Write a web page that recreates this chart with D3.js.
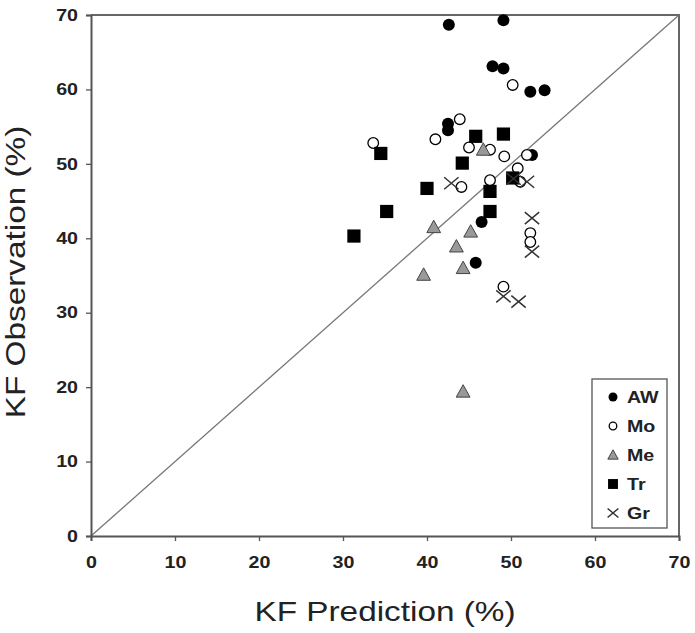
<!DOCTYPE html>
<html lang="en">
  <head>
    <meta charset="UTF-8" />
    <script src="https://d3js.org/d3.v7.min.js"></script>
    <title>KF Prediction vs Observation</title>
    <style>
      body {
        margin: 0;
        background: #fff;
      }
      .tick text {
        font-family: Arial, "Liberation Sans", sans-serif;
        font-size: 16.5px;
        font-weight: bold;
        fill: #222;
      }
      .axis-title {
        font-family: Arial, "Liberation Sans", sans-serif;
        font-size: 28px;
        fill: #222;
      }
      .legend-label {
        font-family: Arial, "Liberation Sans", sans-serif;
        font-size: 16.5px;
        font-weight: bold;
        fill: #222;
      }
    </style>
  </head>
  <body>
    <svg id="chart" width="695" height="633"></svg>

    <script>
      // data: [prediction, observation]
      const awPoints = [
        [42.6, 68.7], [49.1, 69.3], [47.8, 63.1], [49.1, 62.8], [52.3, 59.7],
        [54.0, 59.9], [42.5, 55.4], [42.5, 54.5], [52.5, 51.2], [46.5, 42.2],
        [45.8, 36.7]
      ];
      const moPoints = [
        [50.2, 60.6], [43.9, 56.0], [33.6, 52.8], [41.0, 53.3], [45.0, 52.2],
        [47.5, 51.9], [49.2, 51.0], [51.9, 51.2], [50.8, 49.4], [47.5, 47.8],
        [44.1, 46.9], [51.1, 47.6], [52.3, 40.7], [52.3, 39.5], [49.1, 33.5]
      ];
      const mePoints = [
        [46.7, 51.9], [40.8, 41.5], [45.2, 40.9], [43.5, 38.9], [44.3, 36.0],
        [39.6, 35.1], [44.3, 19.4]
      ];
      const trPoints = [
        [34.5, 51.4], [45.8, 53.7], [49.1, 54.0], [44.2, 50.1], [40.0, 46.7],
        [47.5, 46.3], [35.2, 43.6], [47.5, 43.6], [31.3, 40.3], [50.2, 48.1]
      ];
      const grPoints = [
        [42.9, 47.4], [50.3, 48.0], [51.9, 47.6], [52.5, 42.7], [52.5, 38.2],
        [49.1, 32.2], [50.9, 31.5]
      ];
      const seriesNames = ["AW", "Mo", "Me", "Tr", "Gr"];
      const tickValues = [0, 10, 20, 30, 40, 50, 60, 70];

      const series = [
        { name: "AW", points: awPoints },
        { name: "Mo", points: moPoints },
        { name: "Me", points: mePoints },
        { name: "Tr", points: trPoints },
        { name: "Gr", points: grPoints }
      ];

      const svg = d3.select("#chart");
      const plotLeft = 91, plotRight = 679, plotTop = 15, plotBottom = 536;
      const stretch = 1.19; // the original type is set wide

      const x = d3.scaleLinear().domain([0, 70]).range([plotLeft, plotRight]);
      const y = d3.scaleLinear().domain([0, 70]).range([plotBottom, plotTop]);

      // widen text along its own direction
      function widen(sel) {
        sel.each(function () {
          const len = this.getComputedTextLength();
          d3.select(this)
            .attr("textLength", len * stretch)
            .attr("lengthAdjust", "spacingAndGlyphs");
        });
      }

      // frame (top and right edges)
      svg.append("path")
        .attr("d", `M${plotLeft},${plotTop}H${plotRight}V${plotBottom}`)
        .attr("fill", "none")
        .attr("stroke", "#666")
        .attr("stroke-width", 2);

      // 1:1 line
      svg.append("line")
        .attr("x1", x(0)).attr("y1", y(0))
        .attr("x2", x(70)).attr("y2", y(70))
        .attr("stroke", "#777")
        .attr("stroke-width", 1.3);

      // axes
      const xAxis = svg.append("g")
        .attr("transform", `translate(0,${plotBottom})`)
        .call(d3.axisBottom(x).tickValues(tickValues).tickSize(5).tickPadding(15));
      const yAxis = svg.append("g")
        .attr("transform", `translate(${plotLeft},0)`)
        .call(d3.axisLeft(y).tickValues(tickValues).tickSize(5).tickPadding(8));
      [xAxis, yAxis].forEach((g) => {
        g.select(".domain").attr("stroke", "#555").attr("stroke-width", 2);
        g.selectAll(".tick line").attr("stroke", "#555").attr("stroke-width", 1.3);
        g.selectAll(".tick text").call(widen);
      });

      // axis titles
      svg.append("text")
        .attr("class", "axis-title")
        .attr("x", 385)
        .attr("y", 621)
        .attr("text-anchor", "middle")
        .text("KF Prediction (%)")
        .call(widen);

      svg.append("text")
        .attr("class", "axis-title")
        .attr("transform", "translate(25,272) rotate(-90)")
        .attr("text-anchor", "middle")
        .text("KF Observation (%)")
        .call(widen);

      // marker drawing
      function drawMarker(g, name, size) {
        const h = size / 2;
        if (name === "AW") {
          g.append("circle").attr("r", h).attr("fill", "#000");
        } else if (name === "Mo") {
          g.append("circle").attr("r", h - 0.7)
            .attr("fill", "#fff").attr("stroke", "#000").attr("stroke-width", 1.3);
        } else if (name === "Me") {
          const t = h * 1.15;
          g.append("path")
            .attr("d", `M0,${-t}L${t},${t * 0.8}L${-t},${t * 0.8}Z`)
            .attr("fill", "#999").attr("stroke", "#444").attr("stroke-width", 1);
        } else if (name === "Tr") {
          const s = h * 1.1;
          g.append("rect")
            .attr("x", -s).attr("y", -s)
            .attr("width", s * 2).attr("height", s * 2)
            .attr("fill", "#000");
        } else {
          const w = h * 1.2, v = h;
          g.append("path")
            .attr("d", `M${-w},${-v}L${w},${v}M${-w},${v}L${w},${-v}`)
            .attr("stroke", "#333").attr("stroke-width", 1.5);
        }
      }

      series.forEach((s) => {
        svg.append("g")
          .selectAll("g")
          .data(s.points)
          .join("g")
          .attr("transform", (d) => `translate(${x(d[0])},${y(d[1])})`)
          .each(function () {
            drawMarker(d3.select(this), s.name, 12);
          });
      });

      // legend
      const legend = svg.append("g").attr("transform", "translate(592,379)");
      legend.append("rect")
        .attr("width", 75).attr("height", 149)
        .attr("fill", "#fff").attr("stroke", "#555").attr("stroke-width", 1.3);
      seriesNames.forEach((name, i) => {
        const row = legend.append("g").attr("transform", `translate(21,${18 + i * 29})`);
        drawMarker(row.append("g"), name, 9);
        row.append("text")
          .attr("class", "legend-label")
          .attr("x", 14)
          .attr("y", 6)
          .text(name)
          .call(widen);
      });
    </script>
  </body>
</html>
